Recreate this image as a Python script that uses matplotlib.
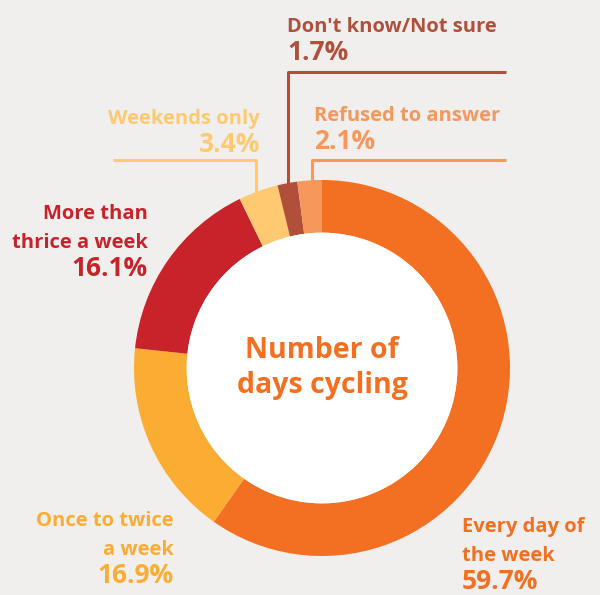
import numpy as np
import matplotlib
matplotlib.use("Agg")
import matplotlib.pyplot as plt
from matplotlib.patches import Circle

# data (clockwise from 12 o'clock)
categories = ["Every day of\nthe week", "Once to twice\na week", "More than\nthrice a week",
              "Weekends only", "Don't know/Not sure", "Refused to answer"]
values = [59.7, 16.9, 16.1, 3.4, 1.7, 2.1]
pct_labels = ["59.7%", "16.9%", "16.1%", "3.4%", "1.7%", "2.1%"]
colors = ["#f37022", "#fbac33", "#c8232b", "#fec970", "#b0503b", "#f6975b"]

bg = "#f0efee"
plt.rcParams['font.family'] = ['Open Sans', 'DejaVu Sans']

fig = plt.figure(figsize=(6.0, 5.95), dpi=100, facecolor=bg)
ax = fig.add_axes([0, 0, 1, 1])
ax.set_facecolor(bg)

cx, cy, R = 322, 368, 188
hole = 0.72
# y axis is inverted below, so counterclock=True turns visually clockwise
ax.pie(values, colors=colors, startangle=270, counterclock=True,
       center=(cx, cy), radius=R,
       wedgeprops=dict(width=R * (1 - hole), linewidth=0))
ax.add_patch(Circle((cx, cy), R * hole, facecolor='white', edgecolor='none', zorder=3))

ax.set_xlim(0, 600)
ax.set_ylim(595, 0)
ax.set_aspect('auto')
ax.axis('off')

fs_lab = 14.5
fs_pct = 19
lh = 29


def label(x, y, cat, pct, color, ha):
    lines = cat.split("\n")
    for i, ln in enumerate(lines):
        ax.text(x, y + i * lh, ln, color=color, fontsize=fs_lab, fontweight='bold',
                ha=ha, va='baseline')
    ax.text(x, y + len(lines) * lh - 1, pct, color=color, fontsize=fs_pct,
            fontweight='bold', ha=ha, va='baseline')


def ring_top(x):
    return cy - np.sqrt(R ** 2 - (x - cx) ** 2) + 3


label(462, 532, categories[0], pct_labels[0], colors[0], 'left')
label(174, 526, categories[1], pct_labels[1], colors[1], 'right')
label(148, 219, categories[2], pct_labels[2], colors[2], 'right')
label(260, 124, categories[3], pct_labels[3], colors[3], 'right')
label(287, 32, categories[4], pct_labels[4], colors[4], 'left')
label(314, 121, categories[5], pct_labels[5], colors[5], 'left')

# leader lines
ax.plot([113, 256, 256], [160, 160, ring_top(256)], color=colors[3], lw=2.2, solid_capstyle='butt')
ax.plot([506, 288, 288], [72, 72, ring_top(288)], color=colors[4], lw=2.2, solid_capstyle='butt')
ax.plot([506, 312, 312], [160, 160, ring_top(312)], color=colors[5], lw=2.2, solid_capstyle='butt')

ax.text(cx, 350, "Number of", color=colors[0], fontsize=20.5, fontweight='bold',
        ha='center', va='center', zorder=4)
ax.text(cx, 386, "days cycling", color=colors[0], fontsize=20.5, fontweight='bold',
        ha='center', va='center', zorder=4)

fig.savefig("out.png", dpi=100, facecolor=bg)
